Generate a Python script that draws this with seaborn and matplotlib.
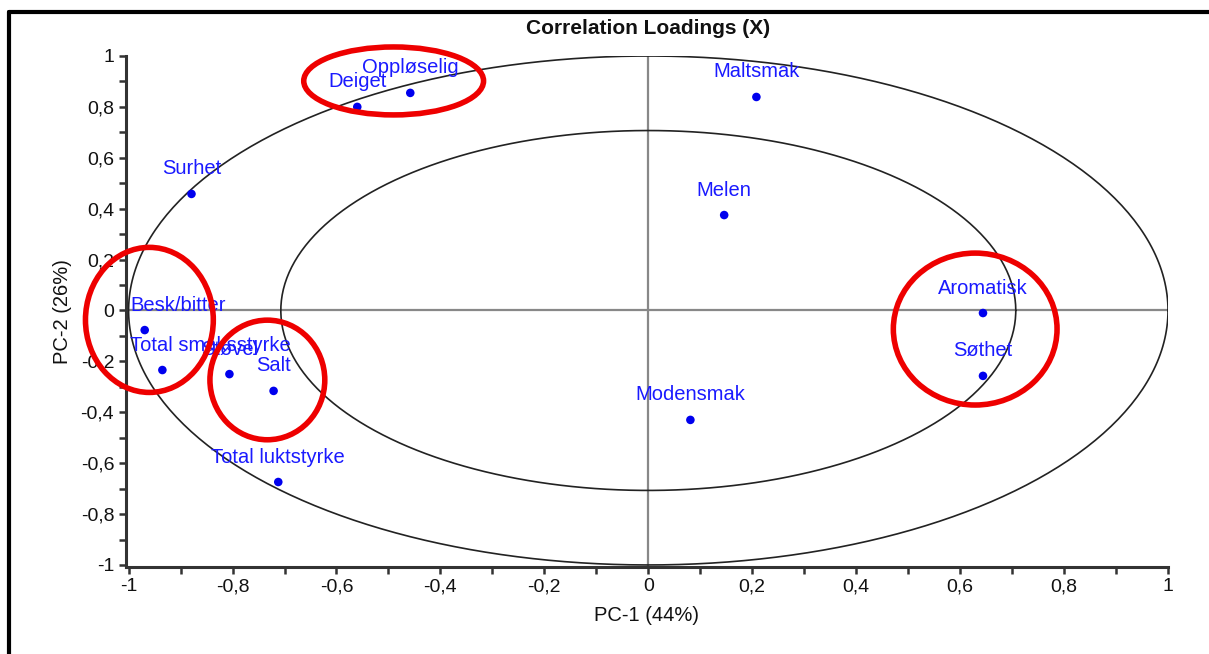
import numpy as np
import pandas as pd
import matplotlib
matplotlib.use("Agg")
import matplotlib.pyplot as plt
from matplotlib.patches import Ellipse
from matplotlib.lines import Line2D
from matplotlib.ticker import MultipleLocator, FuncFormatter
import seaborn as sns

# Correlation loadings of the sensory attributes on PC-1 / PC-2
attributes = ["Deiget", "Oppløselig", "Maltsmak", "Melen", "Surhet",
              "Aromatisk", "Søthet", "Modensmak", "Besk/bitter",
              "Total smaksstyrke", "Støvel", "Salt", "Total luktstyrke"]
pc1 = [-0.56, -0.458, 0.208, 0.146, -0.879, 0.644, 0.644, 0.081,
       -0.969, -0.935, -0.806, -0.721, -0.712]
pc2 = [0.80, 0.855, 0.839, 0.375, 0.458, -0.01, -0.257, -0.43,
       -0.077, -0.234, -0.25, -0.316, -0.674]

# Highlighted groups (centre x, centre y, width, height) in loading units
group_cx = [-0.49, -0.96, -0.733, 0.629]
group_cy = [0.902, -0.037, -0.273, -0.073]
group_w = [0.346, 0.246, 0.221, 0.315]
group_h = [0.267, 0.57, 0.47, 0.597]

explained = {"PC-1": 44, "PC-2": 26}

df = pd.DataFrame({"attr": attributes, "pc1": pc1, "pc2": pc2})

sns.set_theme(style="white")
plt.rcParams["font.family"] = ["Liberation Sans", "DejaVu Sans"]

W, H = 1209, 654
fig = plt.figure(figsize=(W / 100, H / 100), dpi=100)
ax = fig.add_axes([126 / W, (H - 567) / H, (1168 - 126) / W, (567 - 56) / H])

ax.set_xlim(-1.005, 1.0)
ax.set_ylim(-1.008, 1.0)

# 100 % and 50 % explained variance circles
theta = np.linspace(0, 2 * np.pi, 400)
for r in (1.0, np.sqrt(0.5)):
    ax.plot(r * np.cos(theta), r * np.sin(theta), color="#222222", lw=1.2, zorder=1)

# Zero cross-hair
ax.axhline(0, color="#888888", lw=1.6, zorder=0)
ax.axvline(0, color="#888888", lw=1.6, zorder=0)

sns.scatterplot(data=df, x="pc1", y="pc2", ax=ax, color="#0000ee", s=38,
                edgecolor="none", zorder=3, legend=False)

texts = []
for a, x, y in zip(attributes, pc1, pc2):
    t = ax.annotate(a, (x, y), xytext=(0, 18), textcoords="offset points",
                    ha="center", va="center", color="#1a1aff", fontsize=14.5,
                    zorder=4)
    texts.append(t)

# Red highlight rings
for cx, cy, w, h in zip(group_cx, group_cy, group_w, group_h):
    ax.add_patch(Ellipse((cx, cy), w, h, fill=False, edgecolor="#ee0000",
                         lw=4, zorder=5, clip_on=False))

# Axis styling
for side in ("top", "right"):
    ax.spines[side].set_visible(False)
for side in ("left", "bottom"):
    ax.spines[side].set_color("#333333")
    ax.spines[side].set_linewidth(2.2)

ax.xaxis.set_major_locator(MultipleLocator(0.2))
ax.yaxis.set_major_locator(MultipleLocator(0.2))
ax.xaxis.set_minor_locator(MultipleLocator(0.1))
ax.yaxis.set_minor_locator(MultipleLocator(0.1))
fmt = FuncFormatter(lambda v, p: ("%g" % round(v, 2)).replace(".", ",").replace("−", "-"))
ax.xaxis.set_major_formatter(fmt)
ax.yaxis.set_major_formatter(fmt)
ax.tick_params(axis="both", which="both", direction="out", length=5, width=1.8,
               color="#333333", labelsize=14, labelcolor="#111111",
               bottom=True, left=True)
ax.tick_params(axis="x", pad=3)

ax.set_xlabel(f"PC-1 ({explained['PC-1']}%)", fontsize=14.5, color="#111111", labelpad=8)
ax.set_ylabel(f"PC-2 ({explained['PC-2']}%)", fontsize=14.5, color="#111111", labelpad=6)
fig.text(648 / W, 1 - 28 / H, "Correlation Loadings (X)", ha="center", va="center",
         fontsize=15, fontweight="bold", color="#111111")

# Keep labels inside the plotting area on the left side
fig.canvas.draw()
renderer = fig.canvas.get_renderer()
ax_left = ax.get_window_extent(renderer).x0 + 4
for t in texts:
    bb = t.get_window_extent(renderer)
    if bb.x0 < ax_left:
        shift = ax_left - bb.x0
        ox, oy = t.xyann
        t.xyann = (ox + shift * 72 / fig.dpi, oy)

# Frame around the panel
fig.add_artist(Line2D([9 / W, 9 / W], [0, 1 - 12 / H], color="black", lw=3,
                      transform=fig.transFigure))
fig.add_artist(Line2D([9 / W, 1], [1 - 12 / H, 1 - 12 / H], color="black", lw=3,
                      transform=fig.transFigure))

fig.savefig("out.png", dpi=100, facecolor="white")
